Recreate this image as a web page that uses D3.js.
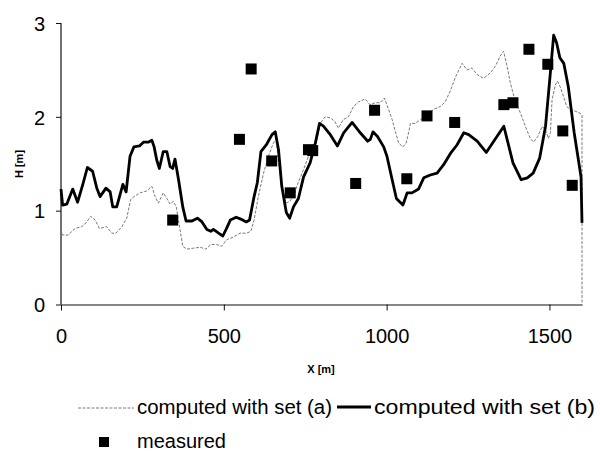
<!DOCTYPE html>
<html>
<head>
<meta charset="utf-8">
<script src="https://cdn.jsdelivr.net/npm/d3@7"></script>
<style>
  html, body { margin: 0; padding: 0; background: #fff; }
  svg { display: block; font-family: "Liberation Sans", Arial, sans-serif; }
</style>
</head>
<body>
<svg id="chart" width="600" height="451"></svg>
<script>
// ---- data ----
const xTicks = [0, 500, 1000, 1500];
const yTicks = [0, 1, 2, 3];

const setAX = [0,5,22,43,64,77,91,105,118,140,156,169,187,202,214,224,243,263,279,289,299,314,325,335,345,354,364,374,386,407,427,445,460,478,493,509,530,550,570,583,593,606,622,637,652,661,667,678,691,703,719,724,745,760,781,796,811,827,841,852,867,883,898,914,934,949,965,980,993,1006,1017,1027,1037,1050,1060,1068,1073,1088,1104,1124,1144,1165,1180,1196,1211,1232,1247,1262,1278,1298,1319,1334,1349,1359,1370,1380,1394,1411,1426,1441,1451,1464,1478,1488,1497,1503,1508,1518,1525,1533,1543,1553,1563,1579,1594,1600,1600];
const setAH = [0.80,0.74,0.74,0.81,0.83,0.87,0.94,0.90,0.81,0.83,0.76,0.76,0.83,0.92,1.12,1.15,1.19,1.21,1.26,1.15,1.08,1.19,1.13,1.07,1.10,1.04,0.83,0.62,0.59,0.60,0.61,0.59,0.64,0.64,0.62,0.69,0.72,0.76,0.76,0.78,0.90,1.15,1.40,1.58,1.72,1.77,1.54,1.26,1.08,1.10,1.19,1.26,1.44,1.58,1.68,1.93,2.00,1.99,1.95,1.88,1.97,2.00,2.11,2.16,2.19,2.13,2.15,2.15,2.20,2.08,1.97,1.84,1.72,1.68,1.72,1.84,1.93,1.93,1.97,2.02,2.08,2.11,2.16,2.28,2.42,2.57,2.50,2.52,2.45,2.41,2.47,2.54,2.65,2.70,2.54,2.36,2.18,2.04,1.90,1.77,1.73,1.79,1.90,1.86,1.77,1.83,2.18,2.34,2.38,2.32,2.22,2.11,2.08,2.06,2.04,2.02,0.00];

const setBX = [0,5,18,36,51,67,81,97,110,120,138,151,159,171,190,200,212,224,241,253,268,279,286,294,302,314,325,335,343,350,361,374,384,402,419,433,448,460,468,484,497,507,520,538,552,569,579,593,603,614,632,648,658,668,678,692,702,714,729,745,765,781,794,806,827,849,868,894,919,942,950,958,972,991,1001,1017,1030,1050,1063,1078,1098,1114,1134,1155,1175,1196,1216,1237,1252,1278,1306,1329,1360,1370,1388,1413,1432,1450,1470,1488,1501,1513,1522,1532,1544,1558,1576,1589,1597,1600];
const setBH = [1.23,1.06,1.07,1.23,1.09,1.28,1.46,1.42,1.24,1.15,1.24,1.20,1.04,1.04,1.28,1.20,1.58,1.68,1.69,1.73,1.73,1.75,1.68,1.54,1.45,1.63,1.63,1.47,1.45,1.55,1.33,1.04,0.89,0.89,0.92,0.88,0.80,0.78,0.80,0.76,0.73,0.80,0.90,0.93,0.91,0.88,0.90,1.15,1.30,1.63,1.71,1.81,1.84,1.65,1.26,0.98,0.92,1.04,1.13,1.36,1.51,1.72,1.93,1.90,1.81,1.69,1.83,1.94,1.83,1.74,1.76,1.84,1.79,1.68,1.58,1.33,1.13,1.06,1.19,1.19,1.23,1.35,1.38,1.40,1.49,1.61,1.70,1.83,1.81,1.74,1.62,1.74,1.90,1.76,1.51,1.33,1.35,1.40,1.56,1.90,2.40,2.87,2.79,2.63,2.57,2.32,1.83,1.54,1.36,0.87];

const measX = [343,548,584,647,704,760,773,905,963,1062,1124,1209,1360,1388,1437,1495,1541,1570];
const measH = [0.90,1.76,2.51,1.53,1.19,1.65,1.64,1.29,2.07,1.34,2.01,1.94,2.13,2.15,2.72,2.56,1.85,1.27];

const legendLabels = ["computed with set (a)", "computed with set (b)", "measured"];
const xTitle = "X [m]";
const yTitle = "H [m]";

// ---- drawing ----
const svg = d3.select("#chart");
const x = d3.scaleLinear().domain([0, 1600]).range([61, 582]);
const y = d3.scaleLinear().domain([0, 3]).range([304.5, 23]);

const setA = setAX.map((v, i) => [v, setAH[i]]);
const setB = setBX.map((v, i) => [v, setBH[i]]);
const meas = measX.map((v, i) => [v, measH[i]]);

// axes
const yAxis = svg.append("g").attr("transform", "translate(61,0)")
  .call(d3.axisLeft(y).tickValues(yTicks).tickFormat(d3.format("d")).tickSize(5).tickPadding(11));
const xAxis = svg.append("g").attr("transform", "translate(0,304.5)")
  .call(d3.axisBottom(x).tickValues(xTicks).tickFormat(d3.format("d")).tickSize(6).tickSizeOuter(0).tickPadding(18));
[yAxis, xAxis].forEach(g => {
  g.select(".domain").attr("stroke", "#111").attr("stroke-width", 1.2);
  g.selectAll(".tick line").attr("stroke", "#111");
  g.selectAll(".tick text").attr("font-size", 20).attr("fill", "#000")
    .attr("font-family", "'Liberation Sans', Arial, sans-serif");
});
yAxis.select(".domain").attr("d", "M0,304.5V23");
yAxis.selectAll(".tick text").attr("dy", "0.36em");

const line = d3.line().x(d => x(d[0])).y(d => y(d[1]));

svg.append("path").datum(setA)
  .attr("fill", "none").attr("stroke", "#7a7a7a").attr("stroke-width", 1)
  .attr("stroke-dasharray", "3,1.5").attr("d", line);

svg.append("path").datum(setB)
  .attr("fill", "none").attr("stroke", "#000").attr("stroke-width", 2.8)
  .attr("stroke-linejoin", "round").attr("d", line);

const ms = 11;
svg.append("g").selectAll("rect").data(meas).join("rect")
  .attr("x", d => x(d[0]) - ms / 2).attr("y", d => y(d[1]) - ms / 2)
  .attr("width", ms).attr("height", ms).attr("fill", "#000");

// axis titles
svg.append("text").attr("x", 321).attr("y", 373).attr("text-anchor", "middle")
  .attr("font-size", 11).attr("font-weight", "bold").text(xTitle);
svg.append("text").attr("transform", "translate(23,164) rotate(-90)").attr("text-anchor", "middle")
  .attr("font-size", 11).attr("font-weight", "bold").text(yTitle);

// legend
const lg = svg.append("g");
lg.append("line").attr("x1", 78).attr("x2", 134).attr("y1", 408).attr("y2", 408)
  .attr("stroke", "#7a7a7a").attr("stroke-width", 1).attr("stroke-dasharray", "3,1.5");
lg.append("text").attr("x", 137).attr("y", 414).attr("font-size", 20)
  .attr("textLength", 195).attr("lengthAdjust", "spacingAndGlyphs").text(legendLabels[0]);
lg.append("line").attr("x1", 337).attr("x2", 371).attr("y1", 407).attr("y2", 407)
  .attr("stroke", "#000").attr("stroke-width", 2.8);
lg.append("text").attr("x", 374).attr("y", 414).attr("font-size", 20)
  .attr("textLength", 221).attr("lengthAdjust", "spacingAndGlyphs").text(legendLabels[1]);
lg.append("rect").attr("x", 99).attr("y", 437).attr("width", 10).attr("height", 10).attr("fill", "#000");
lg.append("text").attr("x", 137).attr("y", 448).attr("font-size", 20).text(legendLabels[2]);
</script>
</body>
</html>
